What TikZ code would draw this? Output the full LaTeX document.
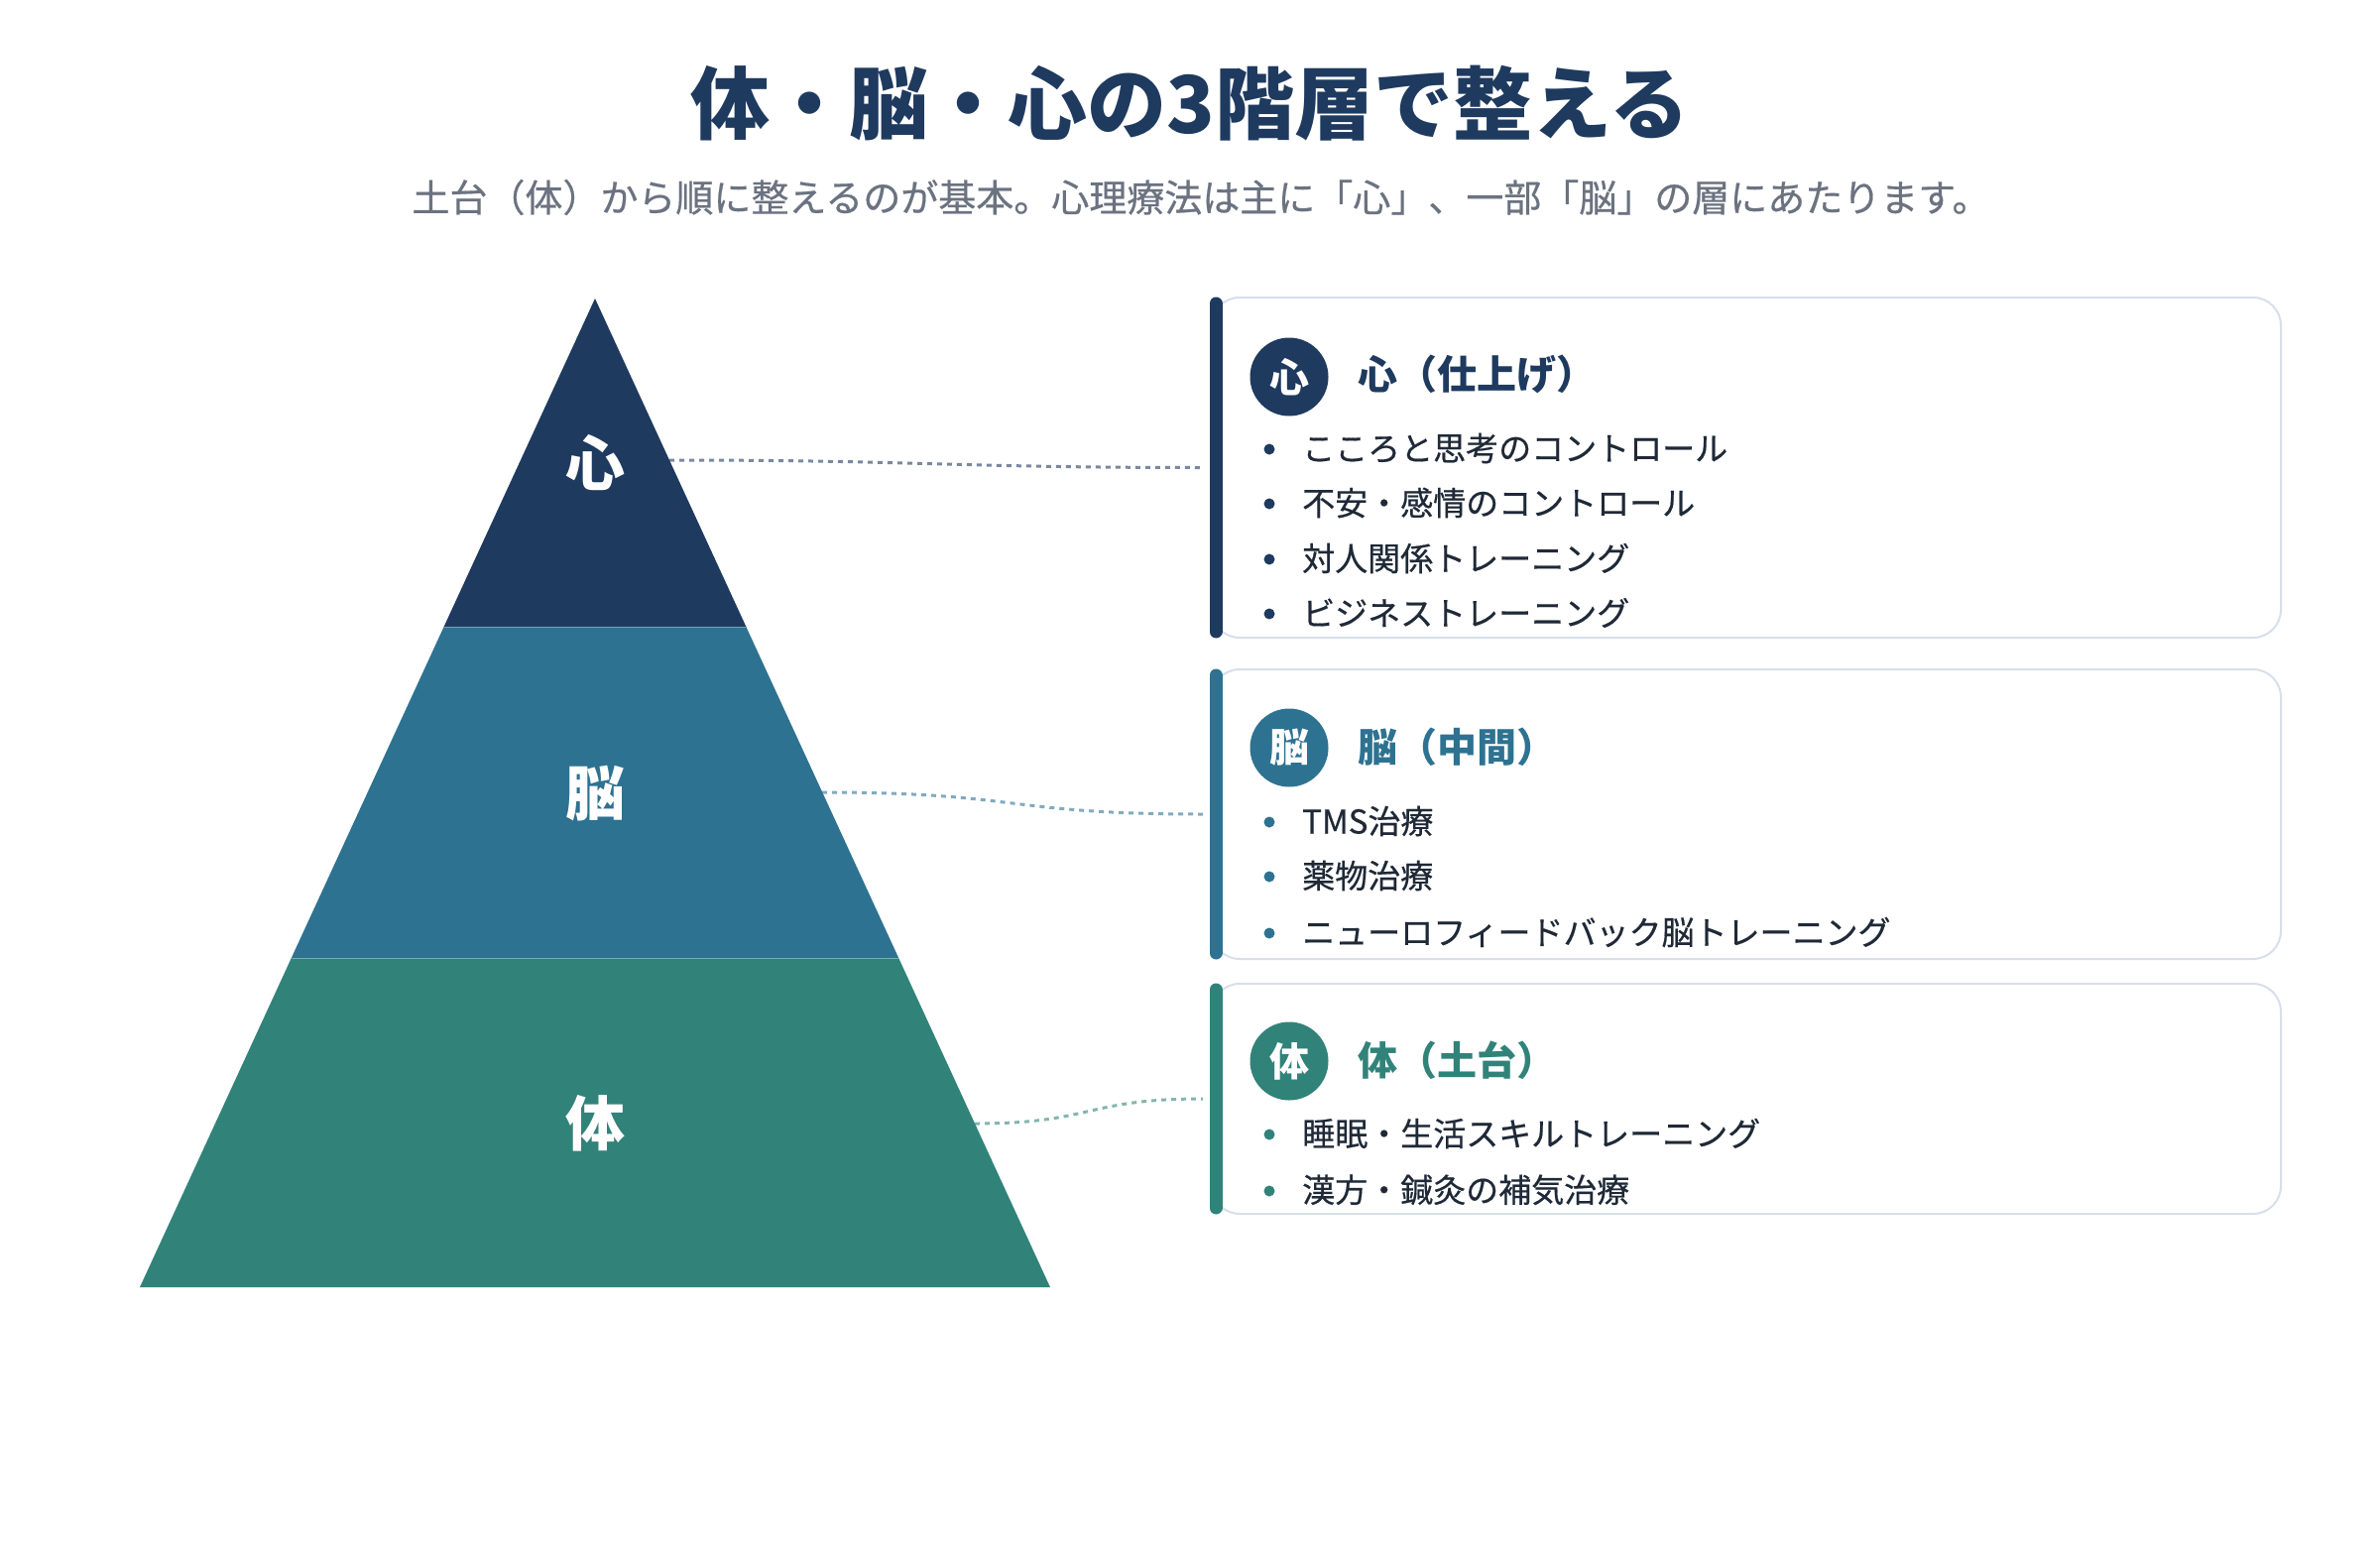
\documentclass[tikz,border=0pt]{standalone}
\usepackage{fontspec}
\setmainfont{Noto Sans CJK JP}
\newfontfamily\medfont[FakeBold=0.5]{Noto Sans CJK JP}
\definecolor{layA}{HTML}{1F3A5F}
\definecolor{layB}{HTML}{2E7291}
\definecolor{layC}{HTML}{31837A}
\definecolor{cardline}{HTML}{D8DFEA}
\definecolor{itemtext}{HTML}{1F2937}
\definecolor{subgrey}{HTML}{6B7280}
\begin{document}
\begin{tikzpicture}[x=1pt,y=-1pt,
 card/.style={draw=cardline, line width=2pt, rounded corners=28pt, fill=white, minimum width=1078pt, inner sep=0pt},
 accent/.style={line width=13pt, line cap=round},
 badge/.style={circle, minimum size=79pt, inner sep=0pt, text=white, font=\fontsize{40}{40}\selectfont\bfseries},
 head/.style={anchor=west, font=\fontsize{40}{48}\selectfont\bfseries, inner sep=0pt},
 item/.style={anchor=west, font=\medfont\fontsize{33}{40}\selectfont, text=itemtext, inner sep=0pt},
 dot/.style={circle, minimum size=11pt, inner sep=0pt},
 link/.style={line width=3pt, dash pattern=on 5pt off 5pt, opacity=0.6},
 layerlbl/.style={text=white, font=\fontsize{60}{60}\selectfont\bfseries},
 sep/.style={white, opacity=0.35, line width=1pt}
]
\useasboundingbox (0,0) rectangle (2400,1560);

% title
\node[font=\fontsize{80}{90}\selectfont\bfseries, text=layA] (title) at (1200,104) {体・脳・心の3階層で整える};
\node[font=\medfont\fontsize{38}{44}\selectfont, text=subgrey] (sub) at (1211,199) {土台（体）から順に整えるのが基本。心理療法は主に「心」、一部「脳」の層にあたります。};

% pyramid
\fill[layA] (600,301) -- (752.4,632) -- (447.6,632) -- cycle;
\fill[layB] (447.6,632) -- (752.4,632) -- (906.2,966) -- (293.8,966) -- cycle;
\fill[layC] (293.8,966) -- (906.2,966) -- (1059,1298) -- (141,1298) -- cycle;
\draw[sep] (447.6,632) -- (752.4,632);
\draw[sep] (293.8,966) -- (906.2,966);
\node[layerlbl] (t1) at (600,467) {心};
\node[layerlbl] (t2) at (600,800) {脳};
\node[layerlbl] (t3) at (600,1133) {体};
\coordinate (e1) at (675,464);
\coordinate (e2) at (829,799);
\coordinate (e3) at (983,1133);

% card 1
\node[card, minimum height=343pt] (c1) at (1761,471.5) {};
\draw[accent, layA] ([xshift=5pt,yshift=-7pt]c1.north west) -- ([xshift=5pt,yshift=7pt]c1.south west);
\node[badge, fill=layA] (b1) at (1300,380) {心};
\node[head, text=layA] (h1) at (1369,377) {心（仕上げ）};
\node[dot, fill=layA] (d11) at (1280,453) {};
\node[item] (i11) at (1313,452) {こころと思考のコントロール};
\node[dot, fill=layA] (d12) at (1280,508) {};
\node[item] (i12) at (1313,507) {不安・感情のコントロール};
\node[dot, fill=layA] (d13) at (1280,564) {};
\node[item] (i13) at (1313,563) {対人関係トレーニング};
\node[dot, fill=layA] (d14) at (1280,619) {};
\node[item] (i14) at (1313,618) {ビジネストレーニング};

% card 2
\node[card, minimum height=292pt] (c2) at (1761,821) {};
\draw[accent, layB] ([xshift=5pt,yshift=-7pt]c2.north west) -- ([xshift=5pt,yshift=7pt]c2.south west);
\node[badge, fill=layB] (b2) at (1300,754) {脳};
\node[head, text=layB] (h2) at (1369,753) {脳（中間）};
\node[dot, fill=layB] (d21) at (1280,829) {};
\node[item] (i21) at (1313,828) {TMS治療};
\node[dot, fill=layB] (d22) at (1280,884) {};
\node[item] (i22) at (1313,883) {薬物治療};
\node[dot, fill=layB] (d23) at (1280,941) {};
\node[item] (i23) at (1313,940) {ニューロフィードバック脳トレーニング};

% card 3
\node[card, minimum height=232pt] (c3) at (1761,1108) {};
\draw[accent, layC] ([xshift=5pt,yshift=-7pt]c3.north west) -- ([xshift=5pt,yshift=7pt]c3.south west);
\node[badge, fill=layC] (b3) at (1300,1070) {体};
\node[head, text=layC] (h3) at (1369,1069) {体（土台）};
\node[dot, fill=layC] (d31) at (1280,1144) {};
\node[item] (i31) at (1313,1143) {睡眠・生活スキルトレーニング};
\node[dot, fill=layC] (d32) at (1280,1201) {};
\node[item] (i32) at (1313,1200) {漢方・鍼灸の補気治療};

% connectors
\draw[link, layA] (e1) .. controls +(250,0) and +(-250,0) .. ([xshift=-8pt]c1.west);
\draw[link, layB] (e2) .. controls +(200,0) and +(-200,0) .. ([xshift=-8pt]c2.west);
\draw[link, layC] (e3) .. controls +(120,0) and +(-120,0) .. ([xshift=-8pt]c3.west);
\end{tikzpicture}
\end{document}
